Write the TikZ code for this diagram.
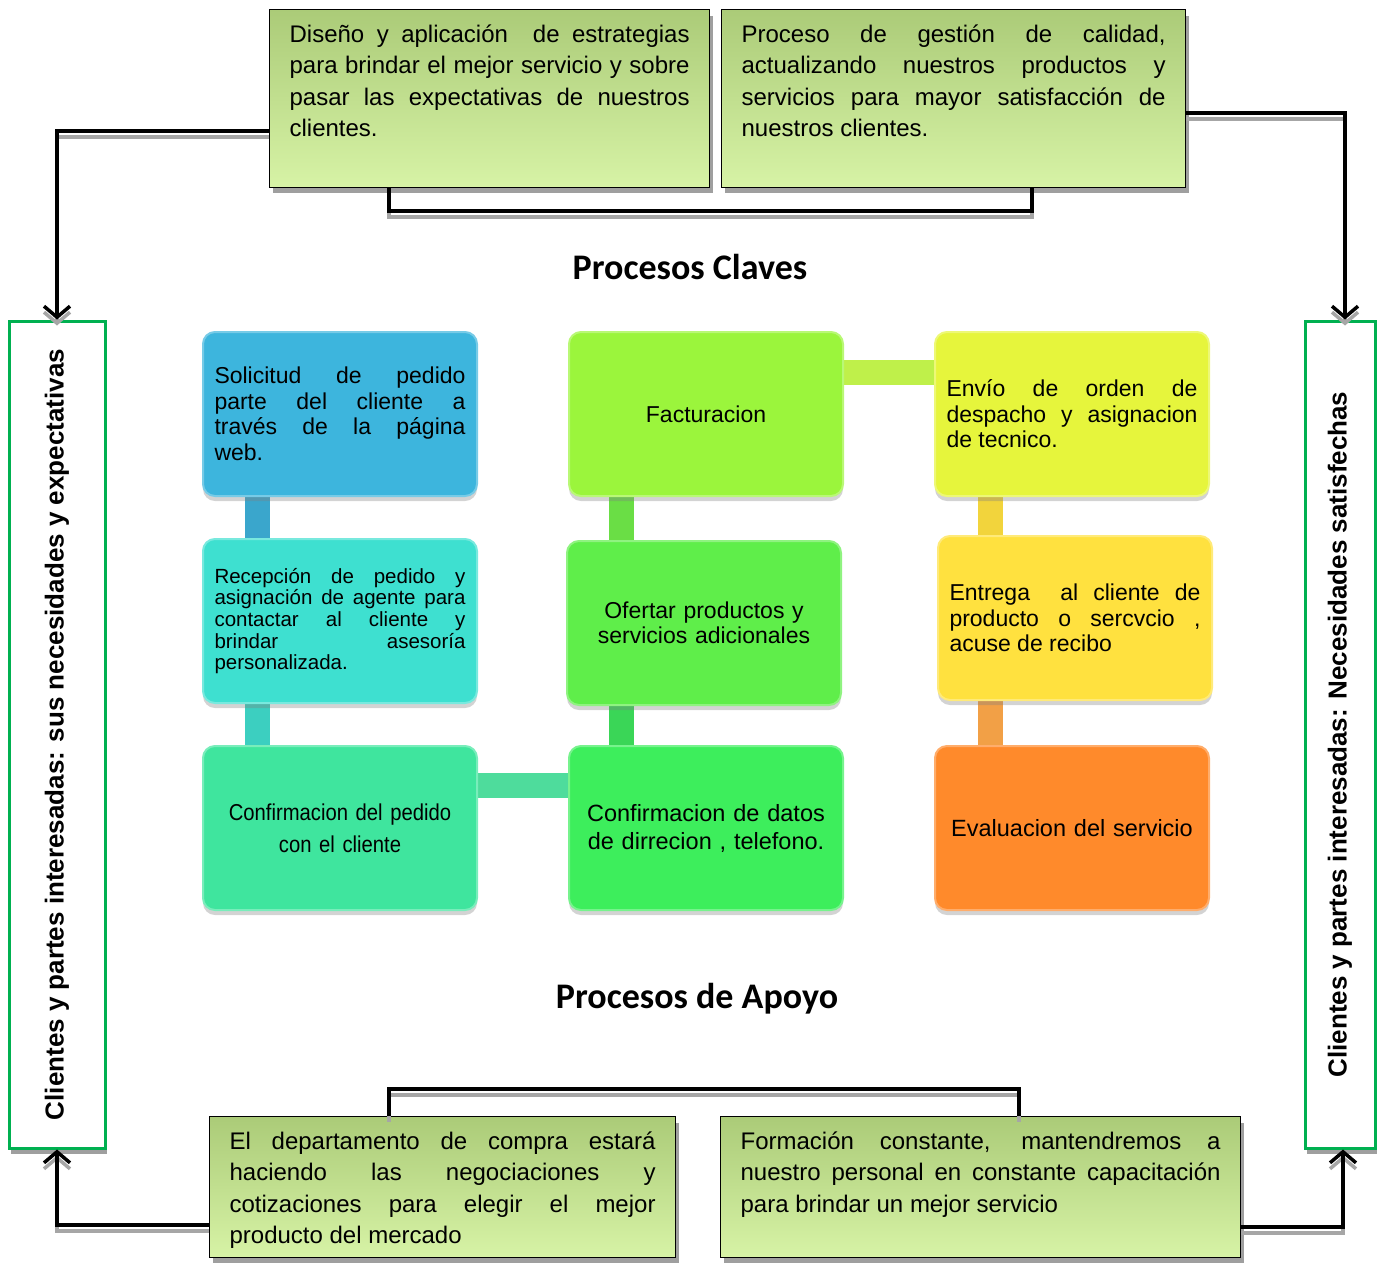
\documentclass[tikz,border=0pt]{standalone}
\usepackage{fontspec}
\setmainfont{Liberation Sans}
\newfontfamily\titlefont{Carlito}
\newfontfamily\narrowfont[FakeStretch=0.88]{Liberation Sans}
\usetikzlibrary{arrows.meta,shadows,backgrounds}

\definecolor{boxtop}{HTML}{ABCB78}
\definecolor{boxbot}{HTML}{D7F3A6}
\definecolor{sidegreen}{HTML}{00B050}
\definecolor{csol}{HTML}{3DB5DD}
\definecolor{crec}{HTML}{3EE0D0}
\definecolor{cped}{HTML}{3FE59E}
\definecolor{cdat}{HTML}{3DEE5C}
\definecolor{cofe}{HTML}{5FEE4A}
\definecolor{cfac}{HTML}{9BF53C}
\definecolor{cenv}{HTML}{E6F53C}
\definecolor{cent}{HTML}{FFE13F}
\definecolor{ceva}{HTML}{FF8A2B}
\definecolor{bsol}{HTML}{3AA6CC}
\definecolor{brec}{HTML}{3CCFC0}
\definecolor{bped}{HTML}{4EDC9C}
\definecolor{bdat}{HTML}{3AD657}
\definecolor{bofe}{HTML}{6ADE45}
\definecolor{bfac}{HTML}{BFF04A}
\definecolor{benv}{HTML}{F2D43C}
\definecolor{bent}{HTML}{F2A046}

\begin{document}
\begin{tikzpicture}[x=1pt,y=-1pt,
  textbox/.style={draw=black, line width=1.2pt, top color=boxtop, bottom color=boxbot,
    drop shadow={shadow xshift=3pt, shadow yshift=-6pt, fill=gray!75, opacity=1},
    anchor=north west, align=justify, inner xsep=20pt, inner ysep=15pt,
    font=\fontsize{24}{31.5}\selectfont},
  procbox/.style={rounded corners=12pt, fill=#1, draw=#1!70!white, line width=2pt,
    drop shadow={shadow xshift=0pt, shadow yshift=-5pt, opacity=0.35},
    anchor=north west, minimum width=274pt, minimum height=164pt,
    text width=251pt, inner xsep=11pt, font=\fontsize{23}{25.5}\selectfont},
  sidebox/.style={draw=sidegreen, line width=3pt, fill=white,
    drop shadow={shadow xshift=2pt, shadow yshift=-6pt, fill=gray!75, opacity=1},
    minimum height=827pt, font=\bfseries\fontsize{26}{30}\selectfont},
  bar/.style={line width=25pt, draw=#1},
  conn/.style={line width=3.5pt, -{Straight Barb[length=11pt,width=26pt,line width=3.5pt]},
    preaction={draw=gray!70, line width=4pt, transform canvas={yshift=-6pt}}},
  link/.style={line width=4pt,
    preaction={draw=gray!70, line width=4pt, transform canvas={yshift=-6pt}}},
  title/.style={font=\titlefont\bfseries\fontsize{36}{40}\selectfont}]
  \useasboundingbox (0,0) rectangle (1383,1264);

  % top and bottom text boxes
  \node[textbox, text width=400pt, text depth=130pt] (dis) at (269,9)
    {Diseño y aplicación \ de estrategias\linebreak para brindar el mejor servicio y sobre\linebreak pasar las expectativas de nuestros\linebreak clientes.};
  \node[textbox, text width=424pt, text depth=130pt] (pro) at (721,9)
    {Proceso de gestión de calidad,\linebreak actualizando nuestros productos y\linebreak servicios para mayor satisfacción de\linebreak nuestros clientes.};
  \node[textbox, text width=426pt, text depth=93pt] (dep) at (209,1116)
    {El departamento de compra estará\linebreak haciendo las negociaciones y\linebreak cotizaciones para elegir el mejor\linebreak producto del mercado};
  \node[textbox, text width=480pt, text depth=93pt] (for) at (720,1116)
    {Formación constante, mantendremos a\linebreak nuestro personal en constante capacitación\linebreak para brindar un mejor servicio};

  % side boxes
  \node[sidebox, minimum width=96pt] (izq) at (57,734.5)
    {\rotatebox{90}{Clientes y partes interesadas: sus necesidades y expectativas}};
  \node[sidebox, minimum width=70pt] (der) at (1340,734.5)
    {\rotatebox{90}{Clientes y partes interesadas: Necesidades satisfechas}};

  \node[title] (claves) at (690,267) {Procesos Claves};
  \node[title] (apoyo) at (697,999) {Procesos de Apoyo};

  % process boxes
  \node[procbox=csol, align=justify] (sol) at (202,331)
    {Solicitud de pedido\linebreak parte del cliente a\linebreak través de la página\linebreak web.};
  \node[procbox=crec, align=justify, font=\fontsize{20.5}{21.7}\selectfont] (rec) at (202,538)
    {Recepción de pedido y\linebreak asignación de agente para\linebreak contactar al cliente y\linebreak brindar asesoría\linebreak personalizada.};
  \node[procbox=cped, align=center, font=\narrowfont\fontsize{23}{32}\selectfont] (ped) at (202,745)
    {Confirmacion del pedido\\con el cliente};
  \node[procbox=cfac, align=center, font=\fontsize{23}{25.5}\selectfont] (fac) at (568,331)
    {Facturacion};
  \node[procbox=cofe, align=center] (ofe) at (566,540)
    {Ofertar productos y\\servicios adicionales};
  \node[procbox=cdat, align=center, font=\fontsize{23.5}{28}\selectfont] (dat) at (568,745)
    {Confirmacion de datos\\de dirrecion , telefono.};
  \node[procbox=cenv, align=justify] (env) at (934,331)
    {Envío de orden de\linebreak despacho y asignacion\linebreak de tecnico.};
  \node[procbox=cent, align=justify] (ent) at (937,535)
    {Entrega \ al cliente de\linebreak producto o sercvcio ,\linebreak acuse de recibo};
  \node[procbox=ceva, align=center, font=\fontsize{23.5}{28}\selectfont] (eva) at (934,745)
    {Evaluacion del servicio};

  \begin{scope}[on background layer]
    \draw[bar=bsol] ([xshift=55pt]sol.south west) -- ([xshift=55pt]rec.north west);
    \draw[bar=brec] ([xshift=55pt]rec.south west) -- ([xshift=55pt]ped.north west);
    \draw[bar=bped] ([yshift=-40pt]ped.north east) -- ([yshift=-40pt]dat.north west);
    \draw[bar=bdat] ([xshift=53pt]dat.north west) -- ([xshift=55pt]ofe.south west);
    \draw[bar=bofe] ([xshift=55pt]ofe.north west) -- ([xshift=53pt]fac.south west);
    \draw[bar=bfac] ([yshift=-41pt]fac.north east) -- ([yshift=-41pt]env.north west);
    \draw[bar=benv] ([xshift=56pt]env.south west) -- ([xshift=53pt]ent.north west);
    \draw[bar=bent] ([xshift=53pt]ent.south west) -- ([xshift=56pt]eva.north west);
  \end{scope}

  % connectors
  \coordinate (lu) at (57,131);
  \coordinate (ru) at (1345,113);
  \coordinate (ld) at (57,1225);
  \coordinate (rd) at (1343,1227);
  \draw[link] ([xshift=120pt]dis.south west) -- ++(0,23) -| ([xshift=311pt]pro.south west);
  \draw[link] ([xshift=180pt]dep.north west) -- ++(0,-27) -| ([xshift=299pt]for.north west);
  \draw[conn] (dis.west |- lu) -- (lu) -- (izq.north);
  \draw[conn] (pro.east |- ru) -- (ru) -- (ru |- der.north);
  \draw[conn] (dep.west |- ld) -- (ld) -- (izq.south);
  \draw[conn] (for.east |- rd) -- (rd) -- (rd |- der.south);
\end{tikzpicture}
\end{document}
